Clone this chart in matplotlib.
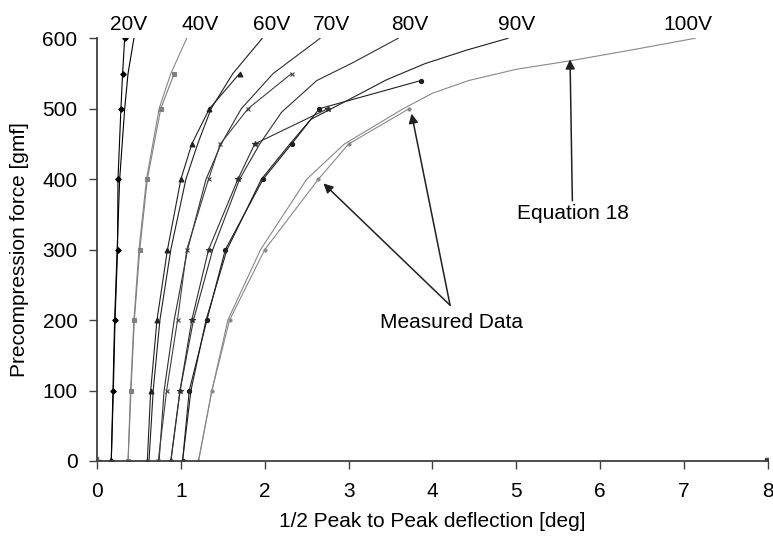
import matplotlib
matplotlib.use("Agg")
import matplotlib.pyplot as plt

plt.rcParams['font.family'] = ['Liberation Sans', 'DejaVu Sans']

# Measured data (x = 1/2 peak-to-peak deflection [deg], y = force [gmf])
m20_x = [0.17, 0.195, 0.215, 0.245, 0.25, 0.285, 0.305, 0.33]
m20_y = [0, 100, 200, 300, 400, 500, 550, 600]
m40_x = [0.37, 0.405, 0.445, 0.51, 0.60, 0.76, 0.92]
m40_y = [0, 100, 200, 300, 400, 500, 550]
m60_x = [0.60, 0.64, 0.715, 0.84, 1.00, 1.13, 1.34, 1.70]
m60_y = [0, 100, 200, 300, 400, 450, 500, 550]
m70_x = [0.73, 0.83, 0.96, 1.07, 1.33, 1.47, 1.80, 2.32]
m70_y = [0, 100, 200, 300, 400, 450, 500, 550]
m80_x = [0.88, 0.99, 1.13, 1.33, 1.68, 1.88, 2.75]
m80_y = [0, 100, 200, 300, 400, 450, 500]
m90_x = [1.02, 1.10, 1.31, 1.53, 1.98, 2.32, 2.65, 3.86]
m90_y = [0, 100, 200, 300, 400, 450, 500, 540]
m100_x = [1.21, 1.37, 1.58, 2.00, 2.64, 3.00, 3.72]
m100_y = [0, 100, 200, 300, 400, 450, 500]

# Equation 18 curves
e20_x = [0.17, 0.19, 0.21, 0.24, 0.27, 0.33, 0.37, 0.44]
e20_y = [0, 100, 200, 300, 400, 500, 550, 600]
e40_x = [0.37, 0.40, 0.44, 0.50, 0.59, 0.74, 0.88, 1.07]
e40_y = [0, 100, 200, 300, 400, 500, 550, 600]
e60_x = [0.62, 0.67, 0.75, 0.88, 1.06, 1.20, 1.36, 1.62, 1.97]
e60_y = [0, 100, 200, 300, 400, 450, 500, 550, 600]
e70_x = [0.74, 0.80, 0.92, 1.08, 1.30, 1.48, 1.72, 2.10, 2.66]
e70_y = [0, 100, 200, 300, 400, 450, 500, 550, 600]
e80_x = [0.88, 0.99, 1.15, 1.38, 1.70, 1.94, 2.20, 2.62, 3.06, 3.59]
e80_y = [0, 100, 200, 300, 400, 450, 495, 540, 566, 600]
e90_x = [1.02, 1.12, 1.30, 1.55, 1.96, 2.30, 2.55, 3.02, 3.45, 3.91, 4.40, 4.90]
e90_y = [0, 100, 200, 300, 400, 450, 485, 514, 541, 564, 583, 600]
e100_x = [1.21, 1.37, 1.56, 1.95, 2.50, 2.95, 3.65, 4.00, 4.43, 5.00, 5.64, 6.40, 7.13]
e100_y = [0, 100, 200, 300, 400, 450, 500, 522, 540, 556, 568, 584, 600]

voltage_labels = ["20V", "40V", "60V", "70V", "80V", "90V", "100V"]
voltage_label_x = [0.375, 1.23, 2.08, 2.80, 3.73, 5.0, 7.04]

fig = plt.figure(figsize=(7.73, 5.44), dpi=100)
ax = fig.add_axes([0.1255, 0.1526, 0.868, 0.777])

lw = 0.8
eq_styles = [
    (e20_x, e20_y, '#000000'),
    (e40_x, e40_y, '#888888'),
    (e60_x, e60_y, '#202020'),
    (e70_x, e70_y, '#303030'),
    (e80_x, e80_y, '#303030'),
    (e90_x, e90_y, '#202020'),
    (e100_x, e100_y, '#888888'),
]
for xs, ys, c in eq_styles:
    ax.plot(xs, ys, color=c, lw=lw)

meas_styles = [
    (m20_x, m20_y, '#000000', 'D', 2.8),
    (m40_x, m40_y, '#808080', 's', 3.2),
    (m60_x, m60_y, '#202020', '^', 3.5),
    (m70_x, m70_y, '#404040', 'x', 3.5),
    (m80_x, m80_y, '#303030', '*', 4),
    (m90_x, m90_y, '#202020', 'o', 3),
    (m100_x, m100_y, '#888888', 'o', 2.2),
]
for xs, ys, c, mk, ms in meas_styles:
    ax.plot(xs, ys, color=c, lw=lw, marker=mk, ms=ms, mec=c, mfc=c, mew=0.8)

# axis-range anchor points
ax.plot([0], [0], marker='P', ms=6, color='#606060', mfc='white', lw=0)
ax.plot([8], [0], marker='s', ms=4, color='#404040', lw=0)

ax.set_xlim(0, 8)
ax.set_ylim(0, 600)
ax.set_xticks(range(0, 9))
ax.set_yticks(range(0, 601, 100))
for s in ['top', 'right']:
    ax.spines[s].set_visible(False)
for s in ['left', 'bottom']:
    ax.spines[s].set_color('#404040')
    ax.spines[s].set_linewidth(1.3)
ax.tick_params(axis='both', direction='out', length=6, width=1, color='#404040',
               labelsize=15)
ax.tick_params(axis='x', pad=9)
ax.tick_params(axis='y', pad=8)
ax.set_xlabel("1/2 Peak to Peak deflection [deg]", fontsize=15, labelpad=8)
ax.set_ylabel("Precompression force [gmf]", fontsize=15, labelpad=10)

for lab, xv in zip(voltage_labels, voltage_label_x):
    ax.text(xv, 620, lab, ha='center', va='center', fontsize=15, clip_on=False)

arrow = dict(arrowstyle='-|>', color='#202020', lw=1.1, mutation_scale=14,
             shrinkA=0, shrinkB=0)
ax.annotate("Equation 18", xy=(5.64, 570), xytext=(5.67, 352), ha='center',
            va='center', fontsize=15, arrowprops=arrow)
ax.annotate("", xy=(2.70, 394), xytext=(4.21, 221), arrowprops=arrow)
ax.annotate("", xy=(3.75, 493), xytext=(4.21, 221), arrowprops=arrow)
ax.text(4.23, 197, "Measured Data", ha='center', va='center', fontsize=15)

fig.savefig("out.png", dpi=100)
